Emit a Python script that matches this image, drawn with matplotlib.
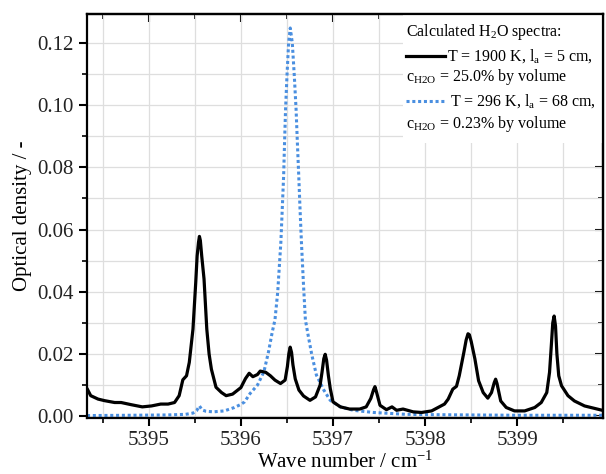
import matplotlib
matplotlib.use("Agg")
import matplotlib.pyplot as plt
from matplotlib.ticker import MultipleLocator
from matplotlib.patches import Rectangle
from matplotlib.lines import Line2D

plt.rcParams['font.family'] = ['Liberation Serif', 'DejaVu Serif']
plt.rcParams['mathtext.fontset'] = 'custom'
plt.rcParams['mathtext.rm'] = 'Liberation Serif'
plt.rcParams['mathtext.it'] = 'Liberation Serif:italic'

# H2O spectrum at 1900 K (wave number in cm^-1, optical density)
hot_wn = [5394.33, 5394.37, 5394.45, 5394.52, 5394.63, 5394.70, 5394.81, 5394.93,
          5395.03, 5395.13, 5395.21, 5395.28, 5395.33, 5395.37, 5395.41, 5395.44,
          5395.48, 5395.51, 5395.525, 5395.54, 5395.55, 5395.56, 5395.575, 5395.60,
          5395.63, 5395.655, 5395.68, 5395.73, 5395.79, 5395.84, 5395.91, 5396.00,
          5396.05, 5396.09, 5396.13, 5396.18, 5396.21, 5396.27, 5396.32, 5396.37,
          5396.43, 5396.48, 5396.505, 5396.52, 5396.535, 5396.55, 5396.565, 5396.59,
          5396.63, 5396.68, 5396.75, 5396.81, 5396.86, 5396.88, 5396.90, 5396.915,
          5396.93, 5396.95, 5396.97, 5397.00, 5397.08, 5397.18, 5397.29, 5397.36,
          5397.41, 5397.44, 5397.455, 5397.47, 5397.51, 5397.58, 5397.64, 5397.69,
          5397.76, 5397.87, 5397.96, 5398.07, 5398.14, 5398.21, 5398.25, 5398.30,
          5398.34, 5398.37, 5398.42, 5398.445, 5398.465, 5398.48, 5398.50, 5398.54,
          5398.58, 5398.63, 5398.68, 5398.72, 5398.75, 5398.765, 5398.78, 5398.82,
          5398.88, 5398.97, 5399.08, 5399.19, 5399.26, 5399.32, 5399.35, 5399.37,
          5399.385, 5399.40, 5399.415, 5399.43, 5399.45, 5399.48, 5399.55, 5399.62,
          5399.73, 5399.84, 5399.95]
hot_od = [0.0089, 0.0066, 0.0055, 0.0050, 0.0044, 0.0044, 0.0037, 0.0030,
          0.0033, 0.0039, 0.0039, 0.0044, 0.0066, 0.0117, 0.0130, 0.0173,
          0.0280, 0.0430, 0.0515, 0.0559, 0.0578, 0.0565, 0.0515, 0.0441,
          0.0280, 0.0200, 0.0151, 0.0093, 0.0076, 0.0066, 0.0071, 0.0092,
          0.0121, 0.0138, 0.0127, 0.0134, 0.0145, 0.0141, 0.0130, 0.0116,
          0.0105, 0.0116, 0.0160, 0.0200, 0.0222, 0.0205, 0.0165, 0.0120,
          0.0084, 0.0065, 0.0051, 0.0062, 0.0100, 0.0140, 0.0185, 0.0199,
          0.0180, 0.0130, 0.0089, 0.0046, 0.0030, 0.0023, 0.0023, 0.0030,
          0.0057, 0.0085, 0.0095, 0.0080, 0.0035, 0.0021, 0.0030, 0.0019,
          0.0023, 0.0014, 0.0012, 0.0017, 0.0028, 0.0039, 0.0055, 0.0087,
          0.0096, 0.0130, 0.0205, 0.0245, 0.0265, 0.0262, 0.0240, 0.0184,
          0.0114, 0.0076, 0.0058, 0.0076, 0.0108, 0.0119, 0.0105, 0.0049,
          0.0028, 0.0017, 0.0017, 0.0028, 0.0044, 0.0076, 0.0141, 0.0230,
          0.0300, 0.0322, 0.0290, 0.0200, 0.0130, 0.0098, 0.0066, 0.0049,
          0.0033, 0.0025, 0.0017]

# H2O spectrum at 296 K
cold_wn = [5394.33, 5394.80, 5395.20, 5395.40, 5395.48, 5395.52, 5395.55, 5395.58,
           5395.62, 5395.70, 5395.82, 5395.93, 5396.00, 5396.04, 5396.10, 5396.18,
           5396.25, 5396.30, 5396.34, 5396.37, 5396.40, 5396.434, 5396.449, 5396.464,
           5396.474, 5396.485, 5396.50, 5396.518, 5396.536, 5396.558, 5396.58, 5396.599,
           5396.613, 5396.628, 5396.642, 5396.657, 5396.68, 5396.70, 5396.73, 5396.77,
           5396.82, 5396.90, 5396.97, 5397.08, 5397.22, 5397.44, 5397.79, 5398.05,
           5398.50, 5399.00, 5399.50, 5399.95]
cold_od = [0.0002, 0.0003, 0.0004, 0.0006, 0.0010, 0.0018, 0.0033, 0.0020,
           0.0016, 0.0014, 0.0017, 0.0028, 0.0038, 0.0046, 0.0073, 0.0100,
           0.0143, 0.0207, 0.0270, 0.0310, 0.0400, 0.0560, 0.0666, 0.0773,
           0.0880, 0.0987, 0.1093, 0.1200, 0.1248, 0.1200, 0.1093, 0.0987,
           0.0880, 0.0773, 0.0666, 0.0560, 0.0420, 0.0310, 0.0260, 0.0197,
           0.0132, 0.0084, 0.0051, 0.0030, 0.0019, 0.0012, 0.0006, 0.0005,
           0.0004, 0.0003, 0.0003, 0.0003]

x_major = [5395, 5396, 5397, 5398, 5399]
y_major = [0.00, 0.02, 0.04, 0.06, 0.08, 0.10, 0.12]

fig = plt.figure(figsize=(6.06, 4.74), dpi=100)
ax = fig.add_axes([0.1436, 0.118, 0.8514, 0.8525])

blue = '#4a8fe0'
dots = (0, (1.0, 0.9))
ax.plot(cold_wn, cold_od, color=blue, lw=2.2, ls=dots, zorder=3)
ax.plot(hot_wn, hot_od, color='black', lw=2.3, zorder=4,
        solid_joinstyle='round', solid_capstyle='round')

ax.set_xlim(5394.33, 5399.93)
ax.set_ylim(-0.0006, 0.1293)
ax.set_xticks(x_major)
ax.set_yticks(y_major)
ax.set_yticklabels([f"{v:.2f}" for v in y_major])
ax.xaxis.set_minor_locator(MultipleLocator(0.5))
ax.yaxis.set_minor_locator(MultipleLocator(0.01))
ax.grid(True, which='both', color='#dedede', lw=0.9, zorder=0)
ax.set_axisbelow(True)

ax.tick_params(which='major', direction='out', length=6, width=1.5, labelsize=15,
               colors='black', labelcolor='#222222')
ax.tick_params(which='minor', direction='out', length=3.5, width=1.2)
for s in ax.spines.values():
    s.set_linewidth(1.6)
    s.set_zorder(7)

top = ax.secondary_xaxis('top')
top.set_xticks(x_major)
top.xaxis.set_minor_locator(MultipleLocator(0.5))
top.tick_params(which='major', direction='in', length=6, width=1.5, labeltop=False)
top.tick_params(which='minor', direction='in', length=3.5, width=1.2)
top.spines['top'].set_linewidth(1.6)

right = ax.secondary_yaxis('right')
right.set_yticks(y_major)
right.yaxis.set_minor_locator(MultipleLocator(0.01))
right.tick_params(which='major', direction='in', length=6, width=1.5, labelright=False)
right.tick_params(which='minor', direction='in', length=3.5, width=1.2)
right.spines['right'].set_linewidth(1.6)

ax.set_xlabel('Wave number / cm$^{\\mathrm{-1}}$', fontsize=15, labelpad=1)
ax.set_ylabel('Optical density / -', fontsize=15, labelpad=4)

# legend block on a plain white patch inside the axes
ax.add_patch(Rectangle((0.612, 0.68), 0.386, 0.318, transform=ax.transAxes,
                       facecolor='white', edgecolor='none', zorder=5))
fs = 11.5
x0 = 0.619
rows = [0.955, 0.897, 0.843, 0.785, 0.727]
ax.text(x0, rows[0], 'Calculated H$_{\\mathrm{2}}$O spectra:', transform=ax.transAxes,
        fontsize=fs, va='center', ha='left', zorder=6)
ax.add_line(Line2D([x0, x0 + 0.075], [rows[1], rows[1]], transform=ax.transAxes,
                   color='black', lw=2.3, zorder=6))
ax.text(x0 + 0.078, rows[1], 'T = 1900 K, l$_{\\mathrm{a}}$ = 5 cm,', transform=ax.transAxes,
        fontsize=fs, va='center', ha='left', zorder=6)
ax.text(x0, rows[2], 'c$_{\\mathrm{H2O}}$ = 25.0% by volume', transform=ax.transAxes,
        fontsize=fs, va='center', ha='left', zorder=6)
ax.add_line(Line2D([x0, x0 + 0.075], [rows[3], rows[3]], transform=ax.transAxes,
                   color=blue, lw=2.2, ls=dots, zorder=6))
ax.text(x0 + 0.085, rows[3], 'T = 296 K, l$_{\\mathrm{a}}$ = 68 cm,', transform=ax.transAxes,
        fontsize=fs, va='center', ha='left', zorder=6)
ax.text(x0, rows[4], 'c$_{\\mathrm{H2O}}$ = 0.23% by volume', transform=ax.transAxes,
        fontsize=fs, va='center', ha='left', zorder=6)

fig.savefig('out.png', dpi=100)
